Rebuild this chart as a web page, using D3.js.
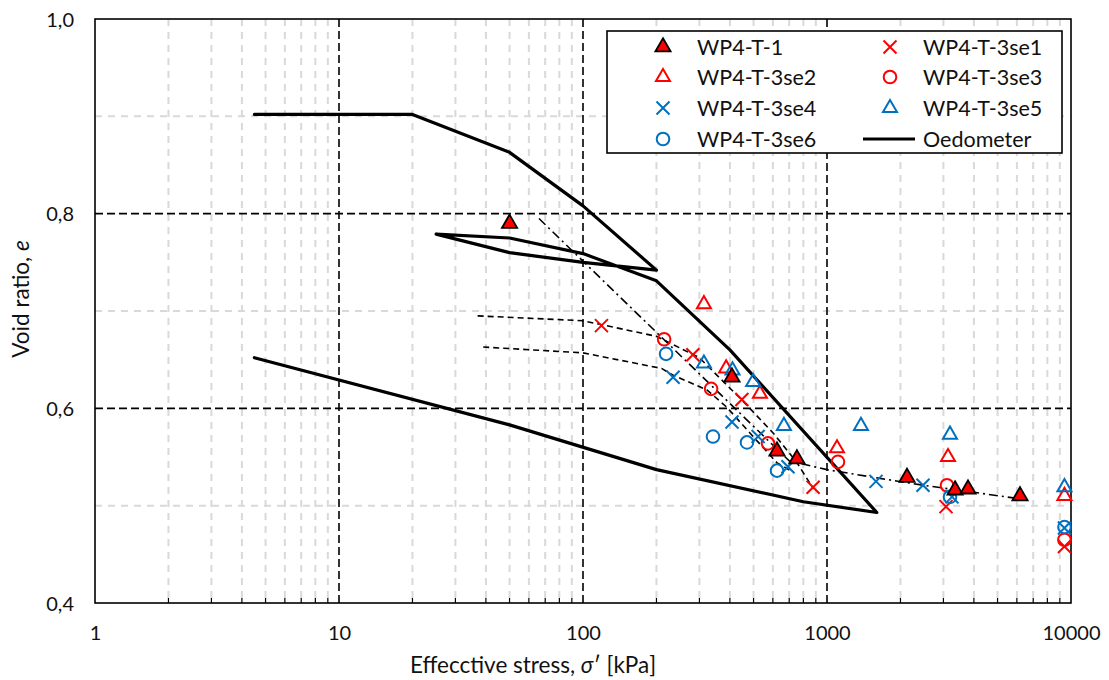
<!DOCTYPE html>
<html><head><meta charset="utf-8">
<script src="https://cdn.jsdelivr.net/npm/d3@7"></script>
<style>
body{margin:0;background:#fff}
text{font-family:Lato,"Open Sans",sans-serif;fill:#111}
</style>
</head><body>
<svg id="chart" width="1109" height="680"></svg>
<script>
// ---------- data ----------
const xTicks = [1, 10, 100, 1000, 10000];
const xTickLabels = ["1", "10", "100", "1000", "10000"];
const yTicks = [0.4, 0.6, 0.8, 1.0];
const yTickLabels = ["0,4", "0,6", "0,8", "1,0"];

const t1Stress = [50, 408, 624, 753, 2128, 3349, 3784, 6180];
const t1Void   = [0.790, 0.632, 0.556, 0.548, 0.529, 0.516, 0.517, 0.510];

const se1Stress = [119, 282, 448, 877, 3074, 9400];
const se1Void   = [0.685, 0.655, 0.609, 0.519, 0.499, 0.458];

const se2Stress = [313, 386, 531, 1099, 3133, 9400];
const se2Void   = [0.707, 0.641, 0.615, 0.559, 0.550, 0.510];

const se3Stress = [215, 335, 573, 1109, 3103, 9400];
const se3Void   = [0.671, 0.620, 0.564, 0.545, 0.521, 0.465];

const se4Stress = [234, 408, 522, 692, 1588, 2474, 3253, 9400];
const se4Void   = [0.632, 0.586, 0.571, 0.540, 0.525, 0.521, 0.509, 0.477];

const se5Stress = [313, 410, 498, 666, 1378, 3192, 9400];
const se5Void   = [0.646, 0.639, 0.627, 0.582, 0.582, 0.573, 0.519];

const se6Stress = [219, 341, 470, 624, 3192, 9400];
const se6Void   = [0.656, 0.571, 0.565, 0.536, 0.509, 0.478];

const oedStress = [4.5, 20, 50, 100, 200, 100, 50, 25, 50, 100, 200, 400, 1600, 800, 200, 50, 4.5];
const oedVoid   = [0.902, 0.902, 0.863, 0.808, 0.742, 0.750, 0.760, 0.779, 0.775, 0.759, 0.731, 0.660, 0.493, 0.504, 0.537, 0.583, 0.652];

// trend lines (no legend entry)
const trendAStress = [66, 700, 1000, 1650, 2474, 6200];
const trendAVoid   = [0.795, 0.546, 0.537, 0.528, 0.521, 0.507];
const trendBStress = [37, 100, 200, 300, 450, 600, 750, 880];
const trendBVoid   = [0.695, 0.690, 0.674, 0.652, 0.608, 0.575, 0.545, 0.517];
const trendCStress = [39, 100, 210, 234, 322, 389, 470, 624, 720];
const trendCVoid   = [0.663, 0.657, 0.641, 0.634, 0.619, 0.601, 0.578, 0.544, 0.535];

const legendNames = ["WP4-T-1", "WP4-T-3se1", "WP4-T-3se2", "WP4-T-3se3", "WP4-T-3se4", "WP4-T-3se5", "WP4-T-3se6", "Oedometer"];

// ---------- layout ----------
const L = 95, R = 1071, T = 19, B = 603;
const RED = "#FF0000", BLUE = "#0070C0";
const svg = d3.select("#chart");
const x = d3.scaleLog().domain([1, 10000]).range([L, R]);
const y = d3.scaleLinear().domain([0.4, 1.0]).range([B, T]);

// grid
const minorX = [];
[1, 10, 100, 1000].forEach(d => { for (let k = 2; k <= 9; k++) minorX.push(k * d); });
const majorX = [10, 100, 1000];
const minorY = [0.5, 0.7, 0.9];
const majorY = [0.6, 0.8];

const grid = svg.append("g");
grid.selectAll(".mx").data(minorX).join("line")
  .attr("x1", d => x(d)).attr("x2", d => x(d)).attr("y1", T).attr("y2", B)
  .attr("stroke", "#d9d9d9").attr("stroke-width", 2).attr("stroke-dasharray", "7,6");
grid.selectAll(".my").data(minorY).join("line")
  .attr("x1", L).attr("x2", R).attr("y1", d => y(d)).attr("y2", d => y(d))
  .attr("stroke", "#d9d9d9").attr("stroke-width", 2).attr("stroke-dasharray", "7,6");
grid.selectAll(".Mx").data(majorX).join("line")
  .attr("x1", d => x(d)).attr("x2", d => x(d)).attr("y1", T).attr("y2", B)
  .attr("stroke", "#000").attr("stroke-width", 1.6).attr("stroke-dasharray", "8,4");
grid.selectAll(".My").data(majorY).join("line")
  .attr("x1", L).attr("x2", R).attr("y1", d => y(d)).attr("y2", d => y(d))
  .attr("stroke", "#000").attr("stroke-width", 1.6).attr("stroke-dasharray", "8,4");

// minor inside ticks on bottom
svg.append("g").selectAll("line").data(minorX).join("line")
  .attr("x1", d => x(d)).attr("x2", d => x(d)).attr("y1", B).attr("y2", B - 5)
  .attr("stroke", "#000").attr("stroke-width", 1.2);

// axes
const gx = svg.append("g").attr("transform", `translate(0,${B})`)
  .call(d3.axisBottom(x).tickValues(xTicks).tickFormat((d, i) => xTickLabels[i]).tickSize(0));
gx.select(".domain").remove();
gx.selectAll("text").attr("y", 37).attr("dy", 0).style("font-size", "20px").style("font-family", "Lato");

const gy = svg.append("g").attr("transform", `translate(${L},0)`)
  .call(d3.axisLeft(y).tickValues(yTicks).tickFormat((d, i) => yTickLabels[i]).tickSize(0));
gy.select(".domain").remove();
gy.selectAll("text").attr("x", -21).attr("dy", "0.35em").style("font-size", "20px").style("font-family", "Lato");

// frame
svg.append("rect").attr("x", L).attr("y", T).attr("width", R - L).attr("height", B - T)
  .attr("fill", "none").attr("stroke", "#000").attr("stroke-width", 1.6);

// axis titles
svg.append("text").attr("x", 533).attr("y", 673).attr("text-anchor", "middle")
  .style("font-size", "22.5px")
  .html('Effecctive stress, <tspan font-style="italic">σ</tspan>′ [kPa]');
svg.append("text").attr("transform", "translate(29,299) rotate(-90)").attr("text-anchor", "middle")
  .style("font-size", "22.5px")
  .html('Void ratio, <tspan font-style="italic">e</tspan>');

// lines
const line = d3.line().x(d => x(d[0])).y(d => y(d[1]));
const plot = svg.append("g");
plot.append("path").datum(d3.zip(trendBStress, trendBVoid)).attr("d", line)
  .attr("fill", "none").attr("stroke", "#000").attr("stroke-width", 1.6).attr("stroke-dasharray", "6,4");
plot.append("path").datum(d3.zip(trendCStress, trendCVoid)).attr("d", line)
  .attr("fill", "none").attr("stroke", "#000").attr("stroke-width", 1.6).attr("stroke-dasharray", "6,4");
plot.append("path").datum(d3.zip(trendAStress, trendAVoid)).attr("d", line)
  .attr("fill", "none").attr("stroke", "#000").attr("stroke-width", 1.6).attr("stroke-dasharray", "9,4,2,4");
plot.append("path").datum(d3.zip(oedStress, oedVoid)).attr("d", line)
  .attr("fill", "none").attr("stroke", "#000").attr("stroke-width", 3.2)
  .attr("stroke-linejoin", "round").attr("stroke-linecap", "round");

// markers
const triPath = d3.symbol().type(d3.symbolTriangle).size(85)();
const xPath = "M-6.5,-6.5L6.5,6.5M-6.5,6.5L6.5,-6.5";
function drawMarker(g, kind, color) {
  if (kind === "tri") g.append("path").attr("d", triPath).attr("fill", "none").attr("stroke", color).attr("stroke-width", 2);
  else if (kind === "triFill") g.append("path").attr("d", d3.symbol().type(d3.symbolTriangle).size(100)()).attr("fill", RED).attr("stroke", "#000").attr("stroke-width", 1.8);
  else if (kind === "x") g.append("path").attr("d", xPath).attr("fill", "none").attr("stroke", color).attr("stroke-width", 2);
  else if (kind === "circ") g.append("circle").attr("r", 6.3).attr("fill", "none").attr("stroke", color).attr("stroke-width", 2);
  else if (kind === "line") g.append("line").attr("x1", -26).attr("x2", 26).attr("stroke", "#000").attr("stroke-width", 3.2);
}
const series = [
  {s: se1Stress, e: se1Void, kind: "x", color: RED},
  {s: se2Stress, e: se2Void, kind: "tri", color: RED},
  {s: se3Stress, e: se3Void, kind: "circ", color: RED},
  {s: se4Stress, e: se4Void, kind: "x", color: BLUE},
  {s: se5Stress, e: se5Void, kind: "tri", color: BLUE},
  {s: se6Stress, e: se6Void, kind: "circ", color: BLUE},
  {s: t1Stress, e: t1Void, kind: "triFill", color: RED}
];
series.forEach(sr => {
  d3.zip(sr.s, sr.e).forEach(p => {
    const g = plot.append("g").attr("transform", `translate(${x(p[0])},${y(p[1])})`);
    drawMarker(g, sr.kind, sr.color);
  });
});

// legend
const lg = svg.append("g");
lg.append("rect").attr("x", 607).attr("y", 31).attr("width", 455).attr("height", 122)
  .attr("fill", "#fff").attr("stroke", "#000").attr("stroke-width", 1.6);
const legendItems = [
  {kind: "triFill", color: RED}, {kind: "x", color: RED},
  {kind: "tri", color: RED}, {kind: "circ", color: RED},
  {kind: "x", color: BLUE}, {kind: "tri", color: BLUE},
  {kind: "circ", color: BLUE}, {kind: "line", color: "#000"}
];
const rowY = [47, 77, 108, 139];
legendItems.forEach((it, i) => {
  const col = i % 2, row = Math.floor(i / 2);
  const mx = col === 0 ? 663 : (it.kind === "line" ? 889 : 890);
  const tx = col === 0 ? 697 : 923;
  const g = lg.append("g").attr("transform", `translate(${mx},${rowY[row]})`);
  drawMarker(g, it.kind, it.color);
  lg.append("text").attr("x", tx).attr("y", rowY[row]).attr("dy", "0.36em")
    .style("font-size", "21.5px").text(legendNames[i]);
});
</script>
</body></html>
